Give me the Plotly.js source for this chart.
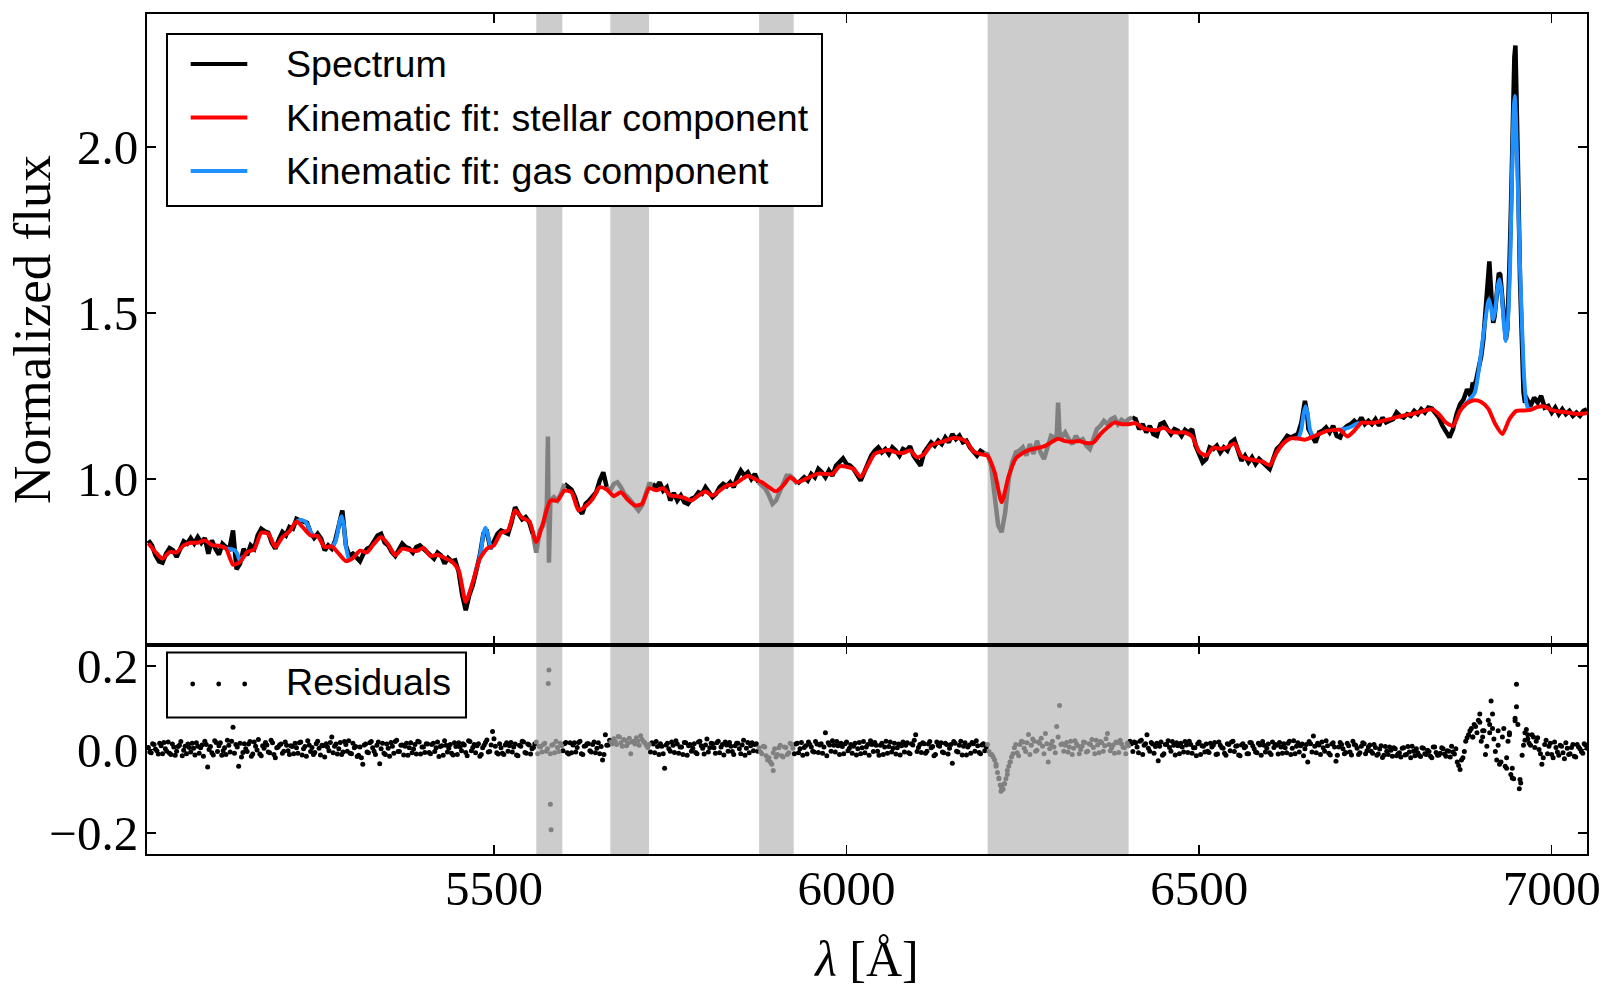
<!DOCTYPE html>
<html><head><meta charset="utf-8">
<script src="https://cdn.plot.ly/plotly-3.0.1.min.js"></script>
<style>html,body{margin:0;padding:0;background:#fff}#chart{width:1616px;height:1001px}</style>
</head><body><div id="chart"></div>
<script>
// ---------------- DATA ----------------
// masked wavelength windows (grey bands)
const maskRanges = [[5560,5597],[5665,5720],[5876,5925],[6200,6400]];

// Observed spectrum, 5 Å sampling, one row per 100 Å starting at specRowStart
const specRowStart = [5010,5110,5210,5310,5410,5510,5610,5710,5810,5910,6010,6110,6210,6310,6410,6510,6610,6710,6810,6910,7010];
const specStep = 5;
const specRows = [
[.815,.800,.770,.752,.748,.775,.792,.785,.765,.790,.812,.805,.822,.806,.825,.808,.822,.775,.815,.790],
[.772,.805,.795,.790,.845,.728,.745,.790,.770,.800,.790,.830,.850,.842,.838,.808,.790,.818,.840,.830],
[.855,.850,.880,.875,.870,.868,.838,.822,.835,.820,.785,.800,.790,.815,.860,.905,.800,.768,.775,.765],
[.752,.775,.790,.795,.812,.830,.835,.808,.800,.780,.768,.790,.805,.795,.790,.778,.795,.800,.790,.778],
[.770,.760,.778,.770,.745,.762,.752,.755,.720,.650,.605,.650,.680,.725,.770,.835,.840,.790,.810,.835],
[.845,.838,.835,.870,.915,.895,.878,.885,.870,.835,.778,.845,.860,.920,.935,.945,.935,.955,.985,.975],
[.968,.945,.910,.895,.925,.935,.950,.960,.995,1.020,.975,.965,.985,.990,.975,.955,.945,.930,.915,.905],
[.920,.950,.985,.985,.975,.990,.965,.975,.935,.958,.935,.950,.930,.925,.940,.945,.960,.955,.975,.960],
[.945,.955,.975,.985,.978,.990,.975,1.005,1.025,1.010,1.020,1.000,1.015,.990,.980,.970,.950,.925,.935,.965],
[.985,1.010,1.010,1.000,.985,.995,1.005,.995,1.015,1.005,1.030,1.020,1.005,1.025,1.010,1.040,1.050,1.062,1.045,1.040],
[1.030,1.010,.995,1.020,1.050,1.070,1.085,1.095,1.080,1.090,1.075,1.095,1.085,1.070,1.090,1.085,1.098,1.070,1.055,1.040],
[1.080,1.095,1.110,1.100,1.115,1.105,1.125,1.110,1.135,1.120,1.130,1.110,1.115,1.095,1.080,1.070,1.085,1.078,1.075,1.040],
[.960,.860,.840,.900,1.000,1.050,1.080,1.085,1.095,1.070,1.105,1.075,1.115,1.080,1.060,1.100,1.130,1.125,1.230,1.125],
[1.140,1.120,1.105,1.130,1.115,1.120,1.100,1.090,1.120,1.150,1.160,1.175,1.165,1.180,1.185,1.165,1.178,1.170,1.180,1.185],
[1.180,1.150,1.165,1.140,1.160,1.135,1.130,1.165,1.170,1.150,1.135,1.150,1.145,1.130,1.148,1.140,1.150,1.100,1.070,1.050],
[1.060,1.095,1.090,1.100,1.080,1.095,1.085,1.110,1.118,1.085,1.055,1.070,1.050,1.065,1.045,1.060,1.048,1.040,1.030,1.060],
[1.090,1.100,1.115,1.130,1.125,1.130,1.135,1.170,1.235,1.150,1.130,1.110,1.140,1.145,1.155,1.140,1.160,1.130,1.125,1.150],
[1.160,1.165,1.175,1.165,1.185,1.165,1.175,1.165,1.180,1.160,1.185,1.170,1.175,1.180,1.200,1.190,1.185,1.195,1.190,1.205],
[1.195,1.210,1.200,1.215,1.212,1.200,1.185,1.160,1.140,1.125,1.150,1.195,1.225,1.240,1.270,1.250,1.280,1.320,1.370,1.470],
[1.630,1.520,1.510,1.620,1.520,1.420,1.640,2.150,2.200,1.600,1.260,1.240,1.220,1.245,1.230,1.250,1.215,1.220,1.200,1.215],
[1.195,1.210,1.195,1.205,1.190,1.200,1.190,1.205,1.210]
];
// extra finely-sampled spectrum points (sky lines, emission peaks)
const specExtraWave = [5576.5,5578,5579.5,6298,6302,6648,6653,6888,6893,6898,6903,6908,6911.5,6913,6917,6919,6922,6927,6929,6932,6937,6939,6942,6947,6948.5,6952,6957,6962];
const specExtraFlux = [1.128,0.748,0.920,1.130,1.140,1.220,1.200,1.290,1.300,1.350,1.420,1.570,1.655,1.600,1.470,1.490,1.570,1.615,1.560,1.460,1.450,1.540,1.800,2.270,2.305,1.950,1.420,1.230];

// Stellar component of the kinematic fit, 10 Å sampling
const stellarRowStart = [5010,5110,5210,5310,5410,5510,5610,5710,5810,5910,6010,6110,6210,6310,6410,6510,6610,6710,6810,6910,7010];
const stellarStep = 10;
const stellarRows = [
[.806,.780,.760,.780,.779,.800,.808,.808,.815,.801],
[.799,.790,.742,.750,.780,.788,.838,.835,.795,.825],
[.842,.872,.852,.830,.828,.795,.797,.775,.753,.762],
[.784,.779,.805,.825,.803,.770,.790,.786,.783,.792],
[.768,.772,.762,.752,.725,.630,.690,.760,.790,.800],
[.838,.845,.905,.883,.873,.810,.870,.935,.935,.965],
[.960,.905,.918,.940,.975,.968,.948,.960,.937,.920],
[.925,.972,.966,.972,.950,.948,.943,.935,.950,.962],
[.950,.965,.980,.983,.997,1.010,1.000,.990,.975,.963],
[.980,1.005,.990,.998,1.008,1.016,1.015,1.015,1.038,1.037],
[1.030,1.006,1.040,1.076,1.083,1.087,1.080,1.078,1.086,1.065],
[1.075,1.102,1.109,1.115,1.123,1.122,1.112,1.083,1.075,1.070],
[1.020,.930,1.009,1.062,1.078,1.088,1.093,1.098,1.110,1.121],
[1.114,1.112,1.114,1.108,1.110,1.135,1.155,1.170,1.165,1.165],
[1.168,1.153,1.148,1.147,1.154,1.142,1.140,1.140,1.128,1.082],
[1.070,1.094,1.091,1.095,1.107,1.068,1.060,1.056,1.052,1.041],
[1.080,1.108,1.122,1.122,1.118,1.126,1.135,1.144,1.147,1.148],
[1.128,1.145,1.169,1.169,1.170,1.175,1.180,1.186,1.191,1.195],
[1.200,1.206,1.210,1.195,1.170,1.160,1.205,1.228,1.237,1.232],
[1.212,1.165,1.135,1.180,1.205,1.206,1.208,1.217,1.218,1.207],
[1.203,1.201,1.197,1.196,1.199]
];

// Gas component (stellar + emission lines), only where it departs from the stellar fit
const gasWave = [5116,5120,5124,5128,5132,5136,5140,5145,null,
  5220,5224,5228,5232,5236,5240,5244,null,
  5266,5271,5275,5278,5281,5284,5287,5290,5294,5298,null,
  5474,5478,5482,5485,5488,5491,5494,5498,null,
  6636,6641,6645,6648,6651,6654,6657,6661,null,
  6698,6704,6710,6716,6722,6728,null,
  6874,6878,6882,6886,6891,6896,6901,6906,6909,6911,6914,6917,6920,6923,6926,6929,6932,6935,6938,6941,6944,6946,6947.5,6949,6951,6953,6955,6958,6961,6964,6967,6972];
const gasFlux = [.795,.790,.790,.788,.786,.775,.752,.768,null,
  .872,.876,.876,.872,.862,.840,.828,null,
  .796,.798,.810,.835,.870,.888,.860,.800,.760,.758,null,
  .725,.748,.790,.835,.853,.835,.805,.790,null,
  1.122,1.125,1.150,1.195,1.219,1.195,1.150,1.128,null,
  1.148,1.150,1.153,1.158,1.165,1.169,null,
  1.215,1.226,1.235,1.245,1.260,1.320,1.400,1.480,1.525,1.541,1.515,1.480,1.510,1.575,1.601,1.560,1.470,1.415,1.480,1.651,1.950,2.110,2.153,2.100,1.950,1.800,1.640,1.450,1.300,1.229,1.212,1.210];

// Residuals, 4 Å sampling, one row per 100 Å (two interleaved sets of pixels)
const residRowStart = [5010,5110,5210,5310,5410,5510,5610,5710,5810,5910,6010,6110,6210,6310,6410,6510,6610,6710,6810,6910,7010];
const residRowStart2 = [5012,5112,5212,5312,5412,5512,5612,5712,5812,5912,6012,6112,6212,6312,6412,6512,6612,6712,6812,6912,7012];
const residStep = 4;
const residRows = [
[.005,-.008,.012,-.003,.015,-.010,.002,.018,-.012,.006,-.004,.010,-.015,.008,.013,-.006,.003,.016,-.009,.011,.020,-.042,.007,-.013,.017],
[.009,-.014,.004,.022,-.006,.053,.012,-.040,-.018,.014,-.005,.019,-.011,.008,.024,-.015,.003,.011,-.008,.016,-.020,.006,.013,-.004,.010],
[-.012,.007,.015,-.009,.018,.002,-.016,.011,.005,-.007,.020,-.013,.009,.014,-.003,.030,.008,-.011,.017,-.006,.012,.021,-.010,.004,-.017],
[.006,-.035,.013,-.008,.019,-.004,.010,-.034,.015,-.012,.003,.017,-.009,.022,-.005,.011,.008,-.014,.016,.001,-.011,.018,.006,-.007,.013],
[-.010,.015,.004,-.017,.009,.021,-.006,.012,-.013,.007,.016,-.003,.011,-.015,.019,.005,-.008,.014,-.012,.010,.023,-.005,.043,.008,-.011],
[.004,-.012,.016,.009,-.006,.013,-.015,.008,.018,-.009,.011,.002,.014,-.010,.006,.012,-.004,.190,.010,-.008,.005,.015,-.003,.017,-.011],
[-.008,.016,.005,.020,-.012,.009,.014,-.006,.018,.003,-.010,-.025,.035,.011,.018,.026,.012,.030,.008,.022,.015,-.010,.020,.028,.010],
[.024,.016,.005,-.006,.013,.019,-.012,.008,-.045,.015,-.004,.010,.021,-.009,.006,.017,-.014,.012,.003,-.007,.018,.009,-.011,.025,.004],
[.014,-.009,.020,.006,-.013,.011,.017,-.005,.009,.015,-.010,.022,.003,-.008,.016,.012,-.004,-.006,.008,-.015,-.020,-.035,.002,-.012,.010],
[-.018,.005,-.008,.012,-.010,.015,.002,-.014,.009,.018,.006,-.006,.013,.011,-.009,.040,.016,-.004,.010,.019,-.012,.007,.014,-.003,.012],
[.008,-.013,.017,.004,-.008,.012,.021,-.005,.010,-.014,.015,.006,-.009,.018,.003,-.011,.013,.009,-.006,.016,-.010,.011,.035,.005,-.007],
[.014,-.004,.019,.007,-.012,.010,.016,-.008,.012,.003,-.033,.015,-.006,.020,.008,-.013,.011,.017,-.004,.009,-.010,.014,.006,-.005,-.012],
[-.025,-.055,-.085,-.095,-.070,-.040,-.018,.004,-.008,.012,.018,-.005,.036,.010,.020,-.002,.015,.008,.038,-.030,.012,.006,.055,.105,.014],
[.010,-.006,.020,.003,.014,-.010,.008,.017,-.004,.012,.005,.022,-.008,.016,.009,.038,-.003,.011,.018,-.007,.013,.004,.015,.020,-.005],
[.016,-.008,.022,.010,.035,-.004,.013,.007,-.027,.018,-.010,.012,.005,.019,-.013,.009,.015,-.006,.011,.020,-.009,.004,.014,-.012,.008],
[.013,-.007,.006,.017,-.011,.010,.003,-.014,.012,.018,-.005,.009,-.015,.014,.007,-.010,.016,.002,-.008,.011,.019,-.006,.013,-.012,.005],
[.010,.017,-.009,.004,.015,-.012,.021,.008,-.006,.013,.002,-.030,.014,.032,-.008,.011,.018,-.004,.009,-.013,.016,-.028,.006,.012,-.010],
[.015,-.006,.020,.010,-.012,.008,.014,-.003,.011,-.009,.005,-.011,.009,-.014,-.004,.006,-.016,.002,-.010,-.018,.004,-.012,-.006,.008,-.015],
[-.008,-.017,.003,-.012,-.005,-.020,.006,-.014,-.009,.002,-.016,-.004,.008,-.011,-.030,-.048,-.020,.020,.035,.050,.060,.040,.065,.030,-.012],
[.070,.116,.025,-.025,-.035,.030,-.040,.020,-.060,-.070,.156,-.094,-.014,.040,.025,.010,.030,.020,.000,-.035,.012,-.010,.015,-.020,.005],
[-.014,.008,-.022,.003,-.010,.012,-.018,.006,-.005,.014,.003]
];
const residRows2 = [
[-.006,.014,.001,-.011,.009,.017,-.004,-.009,.013,-.014,.007,.019,-.002,-.010,.005,.015,-.013,.008,.004,-.016,.012,.000,-.008,.021,-.005],
[.016,-.003,-.012,.010,.020,-.009,.006,.015,-.007,.002,.013,-.016,.018,-.001,-.011,.009,.017,-.006,.022,-.012,.004,.011,-.009,.018,-.003],
[.009,-.010,.004,.016,-.013,.007,.021,-.005,-.012,.014,.003,.010,-.018,.006,.017,-.008,.013,.002,-.012,.019,-.004,-.009,.015,.007,-.014],
[-.020,.011,-.006,.016,.004,-.012,.018,.002,-.009,.013,-.016,.008,.019,-.005,.010,-.013,.015,.004,-.008,.012,.020,-.011,.006,.014,-.007],
[.012,-.005,.018,.007,-.014,.010,.003,-.009,.016,-.012,.006,.014,-.007,.021,-.003,.012,.009,-.016,.004,.017,-.006,.011,.026,-.008,.014],
[-.009,.011,-.004,.017,.006,-.013,.010,.020,-.007,.013,-.011,.005,.018,.008,-.006,.015,.002,-.010,.012,.020,-.005,.009,.014,-.008,.016],
[.011,-.006,.017,-.010,.008,.014,-.003,.012,-.008,.016,.007,-.012,.010,.022,.014,.020,.031,.016,.024,.009,.027,.018,.013,.021,.033],
[.019,.010,.012,.016,-.008,.007,.014,-.010,.011,.002,.018,-.007,.013,.006,-.012,.016,.009,-.004,.014,-.010,.020,.003,.011,-.006,.015],
[.004,.016,-.008,.012,.018,-.004,.008,-.012,.015,.002,.011,-.014,.017,.009,-.003,.014,.004,-.010,.006,-.025,-.030,-.008,-.018,.004,-.015],
[.006,-.012,.015,.003,.013,-.008,.017,.005,-.011,.012,-.004,.019,-.007,.014,.006,-.015,.011,.021,-.006,.009,.015,-.010,.018,.003,-.009],
[.015,.002,-.010,.019,.006,-.014,.012,.017,-.004,.010,-.012,.020,.007,-.006,.015,.004,-.013,.018,.010,-.008,.014,.022,-.005,.012,.016],
[-.009,.013,.004,-.015,.018,.008,-.006,.015,-.011,.012,.019,-.004,.010,-.013,.016,.006,-.009,.014,.021,-.007,.011,-.003,.012,-.012,-.018],
[-.040,-.068,-.090,-.082,-.060,-.030,-.010,.012,-.015,.020,.003,.016,-.012,.025,-.004,.018,.027,-.010,.014,.002,.020,-.008,.030,.012,-.004],
[.017,.006,-.012,.021,.009,.000,.018,-.006,.014,.024,-.010,.011,.019,-.004,.026,.012,.004,-.009,.016,.022,.006,-.010,.009,.014,.018],
[.006,.020,-.012,.014,.003,.017,-.009,.015,.008,-.014,.012,.021,-.004,.010,.016,-.010,.006,.019,-.007,.012,.004,-.015,.018,.009,-.006],
[-.004,.015,.010,-.012,.018,.005,-.009,.014,-.003,.020,.008,-.013,.011,.004,-.010,.017,.009,-.006,.015,-.014,.010,.003,-.008,.018,.012],
[-.011,.006,.014,-.008,.020,.003,-.010,.016,.009,-.015,.012,.019,-.006,.008,.015,-.012,.004,.021,-.009,.013,.006,-.014,.017,.002,-.007],
[.009,-.013,.012,.003,-.008,.016,-.010,.006,-.004,.012,-.014,.001,-.019,.007,-.012,-.002,.004,-.015,-.008,.003,-.013,.007,-.020,-.004,.002],
[-.014,.004,-.010,-.002,-.016,.006,-.007,-.013,.004,-.011,-.003,-.018,-.006,.002,-.038,-.025,-.005,.028,.045,.030,.055,.070,.020,.045,.008],
[.040,.085,-.005,.010,-.030,.050,-.020,.035,-.045,.075,.060,-.080,.010,.048,.015,.035,.005,.028,-.010,-.020,.022,.008,-.012,.018,-.006],
[.010,-.008,.016,-.012,.005,-.016,.012,.002,-.009,.011]
];
const residExtraWave = [5577,5580,5581,5896,6212,6216,6219,6220,6224,6228,6232,6888,6898,6902,6912,6916,6924,6936,6940,6944,6948,6950,6955,6962,6966];
const residExtraVal  = [.158,-.131,-.192,-.050,-.035,-.070,-.100,-.092,-.082,-.050,-.030,.030,.085,.045,.060,.050,.045,-.045,.040,-.068,.069,.102,-.072,.022,.035];

const xTickVals = [5500,6000,6500,7000];
const xTickText = ['5500','6000','6500','7000'];
const fluxTickVals = [1.0,1.5,2.0];
const fluxTickText = ['1.0','1.5','2.0'];
const residTickVals = [-0.2,0.0,0.2];
const residTickText = ['\u22120.2','0.0','0.2'];

// ---------------- BUILD ----------------
function rowsToXY(starts, step, rows){
  const xs=[], ys=[];
  rows.forEach((r,k)=>r.forEach((v,j)=>{ xs.push(starts[k]+j*step); ys.push(v); }));
  return [xs, ys];
}
function inMask(w){ return maskRanges.some(r => w>=r[0] && w<=r[1]); }

let [sx, sy] = rowsToXY(specRowStart, specStep, specRows);
let spec = sx.map((x,i)=>[x, sy[i]]);
specExtraWave.forEach((w,i)=>spec.push([w, specExtraFlux[i]]));
spec.sort((a,b)=>a[0]-b[0]);
const specW = spec.map(p=>p[0]), specF = spec.map(p=>p[1]);
const specM = specW.map(inMask);
const blackY = specF.map((f,i)=> specM[i] ? null : f);
const grayY = specF.map((f,i)=> (specM[i] || (i>0 && specM[i-1]) || (i<specM.length-1 && specM[i+1])) ? f : null);

const [stW, stF] = rowsToXY(stellarRowStart, stellarStep, stellarRows);

let [rx, ry] = rowsToXY(residRowStart, residStep, residRows);
const [rx2, ry2] = rowsToXY(residRowStart2, residStep, residRows2);
rx = rx.concat(rx2); ry = ry.concat(ry2);
residExtraWave.forEach((w,i)=>{ rx.push(w); ry.push(residExtraVal[i]); });
const rbX=[], rbY=[], rgX=[], rgY=[];
rx.forEach((w,i)=>{ if(inMask(w)){ rgX.push(w); rgY.push(ry[i]); } else { rbX.push(w); rbY.push(ry[i]); } });

const GRAY = '#808080', BLUE = '#1e90ff', RED = '#ff0000';

const traces = [
  {x:specW, y:blackY, xaxis:'x2', yaxis:'y2', mode:'lines', line:{color:'#000', width:4.5}, connectgaps:false, name:'Spectrum', showlegend:false},
  {x:specW, y:grayY, xaxis:'x2', yaxis:'y2', mode:'lines', line:{color:GRAY, width:4.5}, connectgaps:false, showlegend:false},
  {x:gasWave, y:gasFlux, xaxis:'x2', yaxis:'y2', mode:'lines', line:{color:BLUE, width:4, shape:'spline', smoothing:0.6}, connectgaps:false, name:'Kinematic fit: gas component', showlegend:false},
  {x:stW, y:stF, xaxis:'x2', yaxis:'y2', mode:'lines', line:{color:RED, width:4, shape:'spline', smoothing:0.6}, name:'Kinematic fit: stellar component', showlegend:false},
  {x:rbX, y:rbY, xaxis:'x', yaxis:'y', mode:'markers', marker:{color:'#000', size:5}, name:'Residuals', showlegend:false},
  {x:rgX, y:rgY, xaxis:'x', yaxis:'y', mode:'markers', marker:{color:GRAY, size:5}, showlegend:false}
];

// ---------------- LAYOUT ----------------
const W=1616, H=1001, PL=147, PR=1587, PT=14, PB=854, PMID=645;
const px = v => (v-PL)/(PR-PL);
const py = v => (PB-v)/(PB-PT);
const splitFrac = (PB-PMID)/(PB-PT);

const SERIF = '"Liberation Serif", "Times New Roman", serif';
const SANS = '"Liberation Sans", Arial, Helvetica, sans-serif';

const axBase = {
  showline:true, linecolor:'#000', linewidth:2, mirror:'ticks',
  ticks:'inside', ticklen:9, tickwidth:1.5, tickcolor:'#000',
  showgrid:false, zeroline:false,
  tickfont:{family:SERIF, size:49, color:'#000'}
};

const shapes = maskRanges.map(r => ({type:'rect', xref:'x', yref:'paper', x0:r[0], x1:r[1], y0:0, y1:1,
  fillcolor:'#cccccc', line:{width:0}, layer:'below'}));

// legend 1 (top panel)
shapes.push({type:'rect', xref:'paper', yref:'paper', x0:px(167), x1:px(822), y0:py(206), y1:py(34),
  fillcolor:'#fff', line:{color:'#000', width:2}, layer:'above'});
const legRows = [[64,'#000','Spectrum'],[117.5,RED,'Kinematic fit: stellar component'],[171,BLUE,'Kinematic fit: gas component']];
const annotations = [];
legRows.forEach(([yy,col,txt])=>{
  shapes.push({type:'line', xref:'paper', yref:'paper', x0:px(190.7), x1:px(247.3), y0:py(yy), y1:py(yy), line:{color:col, width:4}, layer:'above'});
  annotations.push({xref:'paper', yref:'paper', x:px(283.5), y:py(yy), xanchor:'left', yanchor:'middle', text:txt, showarrow:false,
    font:{family:SANS, size:37.6, color:'#000'}});
});
// legend 2 (residual panel)
shapes.push({type:'rect', xref:'paper', yref:'paper', x0:px(167), x1:px(466), y0:py(717.5), y1:py(652.5),
  fillcolor:'#fff', line:{color:'#000', width:2}, layer:'above'});
[192.7,218.7,244.7].forEach(cx=>{
  shapes.push({type:'circle', xref:'paper', yref:'paper', x0:px(cx-2.4), x1:px(cx+2.4), y0:py(684+2.4), y1:py(684-2.4),
    fillcolor:'#000', line:{width:0}, layer:'above'});
});
annotations.push({xref:'paper', yref:'paper', x:px(284), y:py(682), xanchor:'left', yanchor:'middle', text:'Residuals', showarrow:false,
  font:{family:SANS, size:37.6, color:'#000'}});

const layout = {
  width:W, height:H,
  margin:{l:PL, r:W-PR, t:PT, b:H-PB, pad:0},
  paper_bgcolor:'#fff', plot_bgcolor:'#fff',
  showlegend:false,
  xaxis:Object.assign({}, axBase, {domain:[0,1], anchor:'y', range:[5008,7050],
    tickvals:xTickVals, ticktext:xTickText, ticklabelstandoff:-10,
    title:{text:'<i>λ</i> [Å]', font:{family:SERIF, size:50, color:'#000'}, standoff:26}}),
  yaxis:Object.assign({}, axBase, {domain:[0,splitFrac], anchor:'x', range:[-0.25,0.25],
    tickvals:residTickVals, ticktext:residTickText, ticklabelstandoff:-3}),
  xaxis2:Object.assign({}, axBase, {domain:[0,1], anchor:'y2', matches:'x', range:[5008,7050],
    tickvals:xTickVals, showticklabels:false}),
  yaxis2:Object.assign({}, axBase, {domain:[splitFrac,1], anchor:'x2', range:[0.5,2.4],
    tickvals:fluxTickVals, ticktext:fluxTickText, ticklabelstandoff:-3,
    title:{text:'Normalized flux', font:{family:SERIF, size:53, color:'#000'}, standoff:9}}),
  shapes:shapes,
  annotations:annotations
};

Plotly.newPlot('chart', traces, layout, {displayModeBar:false, staticPlot:true});
</script>
</body></html>
